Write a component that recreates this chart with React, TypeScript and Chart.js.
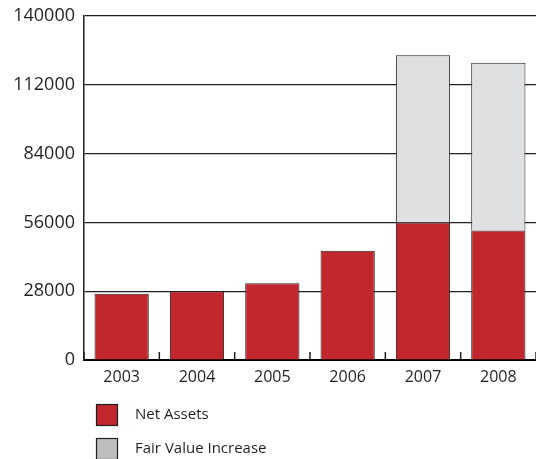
import React, { useEffect, useRef } from "react";
import { Chart, registerables } from "chart.js";

Chart.register(...registerables);

const categories = ["2003", "2004", "2005", "2006", "2007", "2008"];
const netAssets = [27000, 28000, 31200, 44500, 56000, 52700];
const fairValueIncrease: (number | null)[] = [null, null, null, null, 68000, 68300];
const yTicks = [0, 28000, 56000, 84000, 112000, 140000];
const seriesLabels = ["Net Assets", "Fair Value Increase"];

const RED = "#c1272d";
const GRAY_BAR = "#dfe0e2";
const GRAY_LEGEND = "#bcbec0";
const INK = "#231f20";
const FONT = "'Open Sans', sans-serif";

const boundaryTicks = {
  id: "boundaryTicks",
  afterDraw(chart: any) {
    const xs = chart.scales.x;
    const ctx = chart.ctx;
    const bottom = chart.chartArea.bottom;
    const n = categories.length;
    const w = (xs.right - xs.left) / n;
    ctx.save();
    ctx.strokeStyle = INK;
    ctx.lineWidth = 1.5;
    for (let i = 0; i <= n; i++) {
      const px = xs.left + i * w;
      ctx.beginPath();
      ctx.moveTo(px, bottom);
      ctx.lineTo(px, bottom - 8);
      ctx.stroke();
    }
    ctx.restore();
  },
};

const legendColors = [RED, GRAY_LEGEND];

const customLegend = {
  id: "customLegend",
  afterDraw(chart: any) {
    const ctx = chart.ctx;
    const left = chart.chartArea.left + 12;
    const firstCenter = chart.chartArea.bottom + 55;
    const rowGap = 34;
    const box = 22;
    ctx.save();
    ctx.font = `15px ${FONT}`;
    ctx.textBaseline = "middle";
    ctx.textAlign = "left";
    seriesLabels.forEach((label, i) => {
      const cy = firstCenter + i * rowGap;
      ctx.fillStyle = legendColors[i];
      ctx.fillRect(left, cy - box / 2, box, box);
      ctx.strokeStyle = INK;
      ctx.lineWidth = 1.2;
      ctx.strokeRect(left + 0.5, cy - box / 2 + 0.5, box - 1, box - 1);
      ctx.fillStyle = INK;
      ctx.fillText(label, left + box + 17, cy);
    });
    ctx.restore();
  },
};

export default function App() {
  const ref = useRef<HTMLCanvasElement>(null);

  useEffect(() => {
    if (!ref.current) return;
    const chart = new Chart(ref.current, {
      type: "bar",
      data: {
        labels: categories,
        datasets: [
          {
            label: seriesLabels[0],
            data: netAssets,
            backgroundColor: RED,
            borderColor: INK,
            borderWidth: 1,
          },
          {
            label: seriesLabels[1],
            data: fairValueIncrease as any,
            backgroundColor: GRAY_BAR,
            borderColor: INK,
            borderWidth: 1,
          },
        ],
      },
      options: {
        animation: false,
        responsive: true,
        maintainAspectRatio: false,
        layout: { padding: { top: 16, right: 0, bottom: 69, left: 1 } },
        datasets: { bar: { categoryPercentage: 1, barPercentage: 0.72 } },
        plugins: {
          legend: { display: false },
          tooltip: { enabled: false },
        },
        scales: {
          x: {
            stacked: true,
            grid: { display: false, drawTicks: false },
            border: { display: true, color: "#000", width: 2 },
            ticks: {
              color: INK,
              font: { family: FONT, size: 16 },
              padding: 8,
              maxRotation: 0,
            },
            afterFit(scale: any) {
              scale.height = 30;
            },
          },
          y: {
            stacked: true,
            min: 0,
            max: 140000,
            grid: { color: INK, lineWidth: 1.2, drawTicks: false },
            border: { display: true, color: INK, width: 1.5 },
            afterBuildTicks(scale: any) {
              scale.ticks = yTicks.map((v) => ({ value: v }));
            },
            ticks: {
              color: INK,
              font: { family: FONT, size: 18 },
              padding: 9,
              callback: (v: any) => String(v),
            },
            afterFit(scale: any) {
              scale.width = 83;
              scale.paddingTop = 0;
              scale.paddingBottom = 0;
            },
          },
        },
      },
      plugins: [boundaryTicks, customLegend],
    });
    return () => chart.destroy();
  }, []);

  return (
    <div style={{ position: "absolute", left: 0, top: 0, width: 536, height: 459, background: "#fff" }}>
      <canvas ref={ref} />
    </div>
  );
}
